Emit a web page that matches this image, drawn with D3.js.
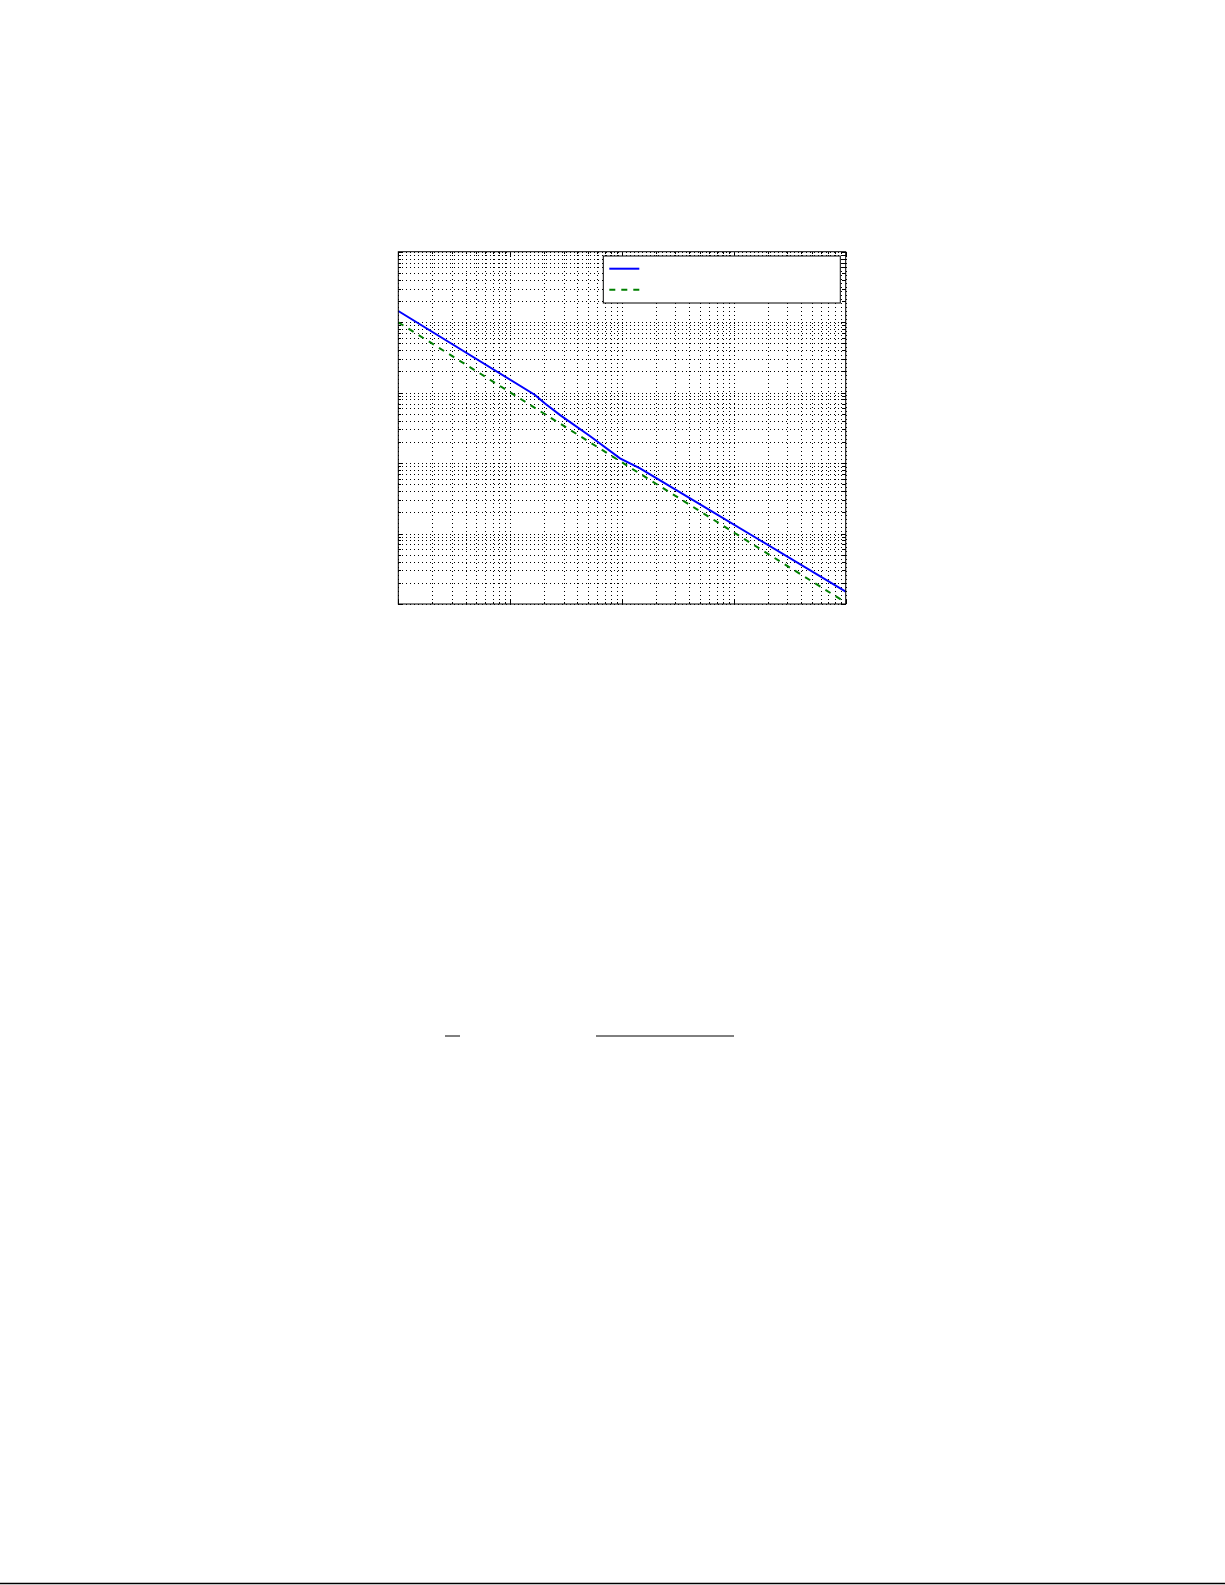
<!DOCTYPE html>
<html>
<head>
<meta charset="utf-8">
<script src="https://cdn.jsdelivr.net/npm/d3@7"></script>
<style>
  body { margin: 0; background: #fff; }
  .grid line { stroke: #000; stroke-width: 1; stroke-dasharray: 1,3; shape-rendering: crispEdges; }
  .grid path { display: none; }
  .ticks path { display: none; }
  .ticks line { stroke: #000; stroke-width: 1; shape-rendering: crispEdges; }
</style>
</head>
<body>
<div id="chart"></div>
<script>
// page size and plot box
var pageW = 1225, pageH = 1585;
var margin = { top: 251.7, left: 398.3 },
    width = 447.4,
    height = 352.3;

// data
var xDomain = [1, 10000];
var yDomain = [1e-5, 1];

var blueX = [1, 16.7, 20.5, 28, 52, 96, 145, 1700, 10000];
var blueY = [0.144, 0.00925, 0.0070, 0.0048, 0.0024, 0.00117, 0.00084, 8.1e-5, 1.5e-5];

var greenX = [1, 10000];
var greenY = [0.0995, 1.05e-5];

var svg = d3.select("#chart").append("svg")
    .attr("width", pageW)
    .attr("height", pageH);

var g = svg.append("g")
    .attr("transform", "translate(" + margin.left + "," + margin.top + ")");

var x = d3.scaleLog().domain(xDomain).range([0, width]);
var y = d3.scaleLog().domain(yDomain).range([height, 0]);

var isMajor = function (v) { return Math.abs(Math.log10(v) - Math.round(Math.log10(v))) < 1e-9; };

// dotted grid at every tick
g.append("g")
    .attr("class", "grid")
    .attr("transform", "translate(0," + height + ")")
    .call(d3.axisBottom(x).tickSize(-height).tickFormat(""));

g.append("g")
    .attr("class", "grid")
    .call(d3.axisLeft(y).tickSize(-width).tickFormat(""));

// inward ticks on all four sides
function ticks(axis, scale, tr) {
    var a = g.append("g").attr("class", "ticks").attr("transform", tr)
        .call(axis(scale).tickSize(0).tickFormat(""));
    a.selectAll(".tick text").remove();
    a.selectAll(".tick line").each(function (d) {
        var len = isMajor(d) ? 5 : 2.5;
        var el = d3.select(this);
        if (axis === d3.axisBottom) el.attr("y2", -len);
        if (axis === d3.axisTop) el.attr("y2", len);
        if (axis === d3.axisLeft) el.attr("x2", len);
        if (axis === d3.axisRight) el.attr("x2", -len);
    });
}
ticks(d3.axisBottom, x, "translate(0," + height + ")");
ticks(d3.axisTop, x, "translate(0,0)");
ticks(d3.axisLeft, y, "translate(0,0)");
ticks(d3.axisRight, y, "translate(" + width + ",0)");

// series
var line = d3.line()
    .x(function (d) { return x(d[0]); })
    .y(function (d) { return y(d[1]); });

g.append("path")
    .datum(d3.zip(greenX, greenY))
    .attr("fill", "none")
    .attr("stroke", "#008000")
    .attr("stroke-width", 2)
    .attr("stroke-dasharray", "6,6")
    .attr("d", line);

g.append("path")
    .datum(d3.zip(blueX, blueY))
    .attr("fill", "none")
    .attr("stroke", "#0000ff")
    .attr("stroke-width", 2)
    .attr("d", line);

// frame
g.append("rect")
    .attr("width", width)
    .attr("height", height)
    .attr("fill", "none")
    .attr("stroke", "#000")
    .attr("stroke-width", 1);

// legend
var lg = g.append("g").attr("transform", "translate(" + (603.3 - margin.left) + "," + (256 - margin.top) + ")");
lg.append("rect")
    .attr("width", 237)
    .attr("height", 47)
    .attr("fill", "#fff")
    .attr("stroke", "#000")
    .attr("stroke-width", 1);
lg.append("line")
    .attr("x1", 6).attr("x2", 36).attr("y1", 12.7).attr("y2", 12.7)
    .attr("stroke", "#0000ff").attr("stroke-width", 2);
lg.append("line")
    .attr("x1", 6).attr("x2", 36).attr("y1", 33.7).attr("y2", 33.7)
    .attr("stroke", "#008000").attr("stroke-width", 2)
    .attr("stroke-dasharray", "6,6");

// rules left on the page below the figure
svg.append("line")
    .attr("x1", 445).attr("x2", 460).attr("y1", 1036).attr("y2", 1036)
    .attr("stroke", "#000").attr("stroke-width", 1);
svg.append("line")
    .attr("x1", 596).attr("x2", 734).attr("y1", 1036).attr("y2", 1036)
    .attr("stroke", "#000").attr("stroke-width", 1);
svg.append("line")
    .attr("x1", 0).attr("x2", pageW).attr("y1", 1583.5).attr("y2", 1583.5)
    .attr("stroke", "#000").attr("stroke-width", 1.5);
</script>
</body>
</html>
